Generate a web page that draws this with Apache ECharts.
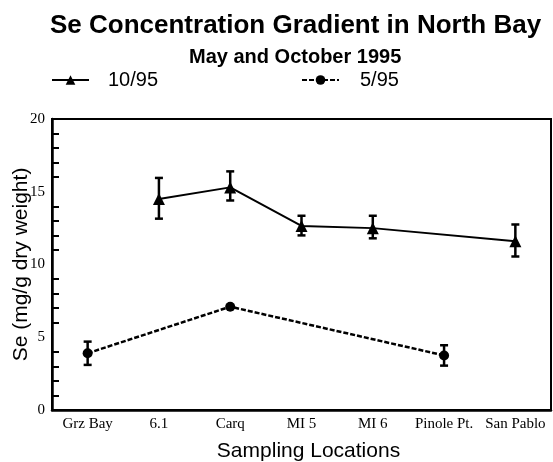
<!DOCTYPE html>
<html>
<head>
<meta charset="utf-8">
<script src="https://cdn.jsdelivr.net/npm/echarts@6/dist/echarts.min.js"></script>
<style>
  html, body { margin: 0; padding: 0; background: #fff; }
  #chart { width: 553px; height: 462px; }
</style>
</head>
<body>
<div id="chart"></div>
<script>
// sampling locations
var locations = ['Grz Bay', '6.1', 'Carq', 'MI 5', 'MI 6', 'Pinole Pt.', 'San Pablo'];
// Se values per location (null = not sampled)
var oct95 = [null, 14.5, 15.3, 12.65, 12.5, null, 11.6];
var may95 = [3.9, null, 7.1, null, null, 3.75, null];
// error bars [location index, low, high]
var oct95Err = [[1, 13.15, 15.95], [2, 14.4, 16.4], [3, 12.0, 13.35], [4, 11.8, 13.35], [6, 10.55, 12.75]];
var may95Err = [[0, 3.1, 4.7], [5, 3.05, 4.45]];

var sans = 'Liberation Sans, Arial, sans-serif';
var serif = 'Liberation Serif, Times New Roman, serif';

function errorBars(params, api) {
    var x = api.value(0);
    var lo = api.coord([x, api.value(1)]);
    var hi = api.coord([x, api.value(2)]);
    var w = 4;
    var st = { stroke: '#000', lineWidth: 2.5 };
    return {
        type: 'group',
        children: [
            { type: 'line', shape: { x1: lo[0], y1: lo[1], x2: hi[0], y2: hi[1] }, style: st },
            { type: 'line', shape: { x1: hi[0] - w, y1: hi[1], x2: hi[0] + w, y2: hi[1] }, style: st },
            { type: 'line', shape: { x1: lo[0] - w, y1: lo[1], x2: lo[0] + w, y2: lo[1] }, style: st }
        ]
    };
}

var myChart = echarts.init(document.getElementById('chart'));
var option = {
    animation: false,
    title: [
        {
            text: 'Se Concentration Gradient in North Bay',
            left: 50, top: 13, padding: 0,
            textStyle: { fontFamily: sans, fontSize: 26, fontWeight: 'bold', color: '#000' }
        },
        {
            text: 'May and October 1995',
            left: 189, top: 47, padding: 0,
            textStyle: { fontFamily: sans, fontSize: 20, fontWeight: 'bold', color: '#000' }
        }
    ],
    legend: [
        {
            data: ['10/95'], left: 51, top: 70, padding: 0,
            itemWidth: 37, itemHeight: 12,
            textStyle: { fontFamily: sans, fontSize: 20, color: '#000', padding: [0, 0, 0, 14] }
        },
        {
            data: ['5/95'], left: 301, top: 70, padding: 0,
            itemWidth: 37, itemHeight: 12,
            textStyle: { fontFamily: sans, fontSize: 20, color: '#000', padding: [0, 0, 0, 16] }
        }
    ],
    grid: {
        left: 52, right: 2, top: 119, bottom: 52,
        containLabel: false,
        outerBoundsMode: 'none',
        show: true, borderColor: '#000', borderWidth: 2
    },
    xAxis: {
        type: 'category',
        data: locations,
        boundaryGap: true,
        name: 'Sampling Locations',
        nameLocation: 'middle',
        nameGap: 31,
        nameMoveOverlap: false,
        nameTextStyle: { fontFamily: sans, fontSize: 21, color: '#000', padding: [0, 0, 0, 14] },
        axisLine: { lineStyle: { color: '#000', width: 2.5 } },
        axisTick: { inside: true, alignWithLabel: true, length: 7, lineStyle: { color: '#000', width: 2 } },
        axisLabel: { fontFamily: serif, fontSize: 15, color: '#000', margin: 7, interval: 0 },
        splitLine: { show: false }
    },
    yAxis: {
        type: 'value',
        min: 0, max: 20, interval: 5,
        name: 'Se (mg/g dry weight)',
        nameLocation: 'middle',
        nameGap: 20,
        nameMoveOverlap: false,
        nameTextStyle: { fontFamily: sans, fontSize: 21, color: '#000' },
        axisLine: { show: true, lineStyle: { color: '#000', width: 2.5 } },
        axisTick: { inside: true, length: 7, lineStyle: { color: '#000', width: 2 } },
        minorTick: { show: true, splitNumber: 5, length: 7, lineStyle: { color: '#000', width: 2 } },
        axisLabel: { fontFamily: serif, fontSize: 15, color: '#000', margin: 7 },
        splitLine: { show: false }
    },
    series: [
        {
            name: '10/95',
            type: 'line',
            data: oct95,
            connectNulls: true,
            symbol: 'triangle',
            symbolSize: 12,
            itemStyle: { color: '#000' },
            lineStyle: { color: '#000', width: 2 },
            z: 3
        },
        {
            name: '5/95',
            type: 'line',
            data: may95,
            connectNulls: true,
            symbol: 'circle',
            symbolSize: 10,
            itemStyle: { color: '#000' },
            lineStyle: { color: '#000', width: 2.5, type: [5, 2] },
            z: 3
        },
        {
            name: 'err10',
            type: 'custom',
            renderItem: errorBars,
            data: oct95Err,
            z: 2
        },
        {
            name: 'err5',
            type: 'custom',
            renderItem: errorBars,
            data: may95Err,
            z: 2
        }
    ]
};
myChart.setOption(option);
</script>
</body>
</html>
